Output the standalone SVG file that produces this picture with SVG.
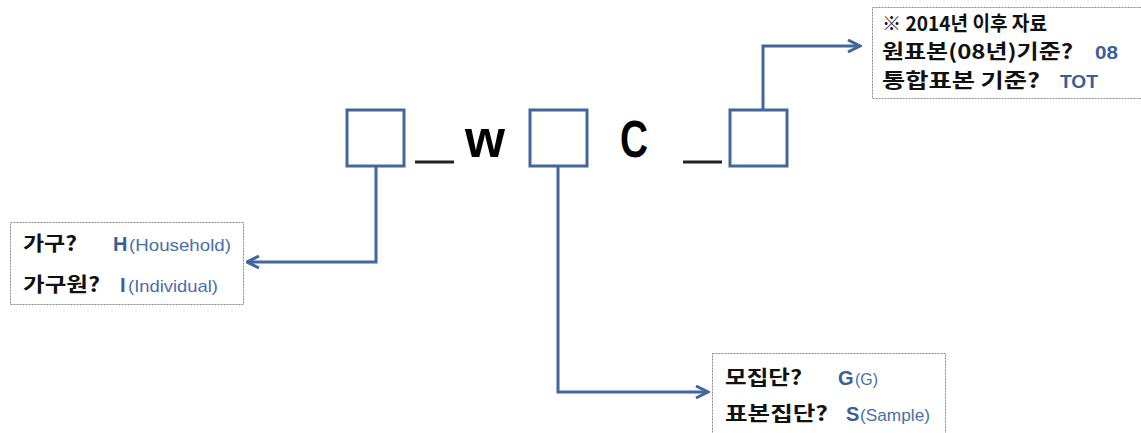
<svg xmlns="http://www.w3.org/2000/svg" width="1141" height="433" viewBox="0 0 1141 433">
<defs>
<style>
.sq{fill:#fff;stroke:#41679c;stroke-width:3}
.ln{fill:none;stroke:#41679c;stroke-width:3}
.bx{fill:#fff;stroke:#8a8a8a;stroke-width:1;stroke-dasharray:2 1}
.k{font-family:"Noto Sans CJK KR","Liberation Sans",sans-serif;font-weight:bold;font-size:20px;fill:#111}
.b{font-family:"Liberation Sans",sans-serif;font-weight:bold;fill:#3a5f98}
.s{font-family:"Liberation Sans",sans-serif;font-weight:normal;font-size:17px;fill:#4a6fa5}
.big{font-family:"Liberation Sans",sans-serif;font-weight:bold;font-size:51px;fill:#000}
.us{stroke:#222;stroke-width:3}
</style>
<marker id="ah" viewBox="0 0 10 10" refX="9" refY="5" markerWidth="5" markerHeight="5" orient="auto" markerUnits="strokeWidth">
<path d="M1,1 L9,5 L1,9" fill="none" stroke="#41679c" stroke-width="2"/>
</marker>
</defs>
<rect width="1141" height="433" fill="#fff"/>
<g id="connectors">
<path class="ln" d="M376,166 V262 H247" marker-end="url(#ah)"/>
<path class="ln" d="M558,166 V392 H708" marker-end="url(#ah)"/>
<path class="ln" d="M763,110 V46 H860" marker-end="url(#ah)"/>
</g>
<g id="code">
<rect id="box1" class="sq" x="347" y="110" width="57" height="56"/>
<line class="us" x1="415" y1="162" x2="454" y2="162"/>
<text class="big" x="465" y="157" textLength="40" lengthAdjust="spacingAndGlyphs">w</text>
<rect id="box2" class="sq" x="530" y="110" width="57" height="56"/>
<text class="big" x="620" y="157" textLength="28" lengthAdjust="spacingAndGlyphs">C</text>
<line class="us" x1="683" y1="162" x2="722" y2="162"/>
<rect id="box3" class="sq" x="730" y="110" width="57" height="56"/>
</g>
<g id="node-household">
<rect class="bx" x="10.5" y="222.5" width="233" height="82"/>
<text class="k" x="23" y="251" textLength="54" lengthAdjust="spacingAndGlyphs">가구?</text>
<text class="b" x="113" y="251" font-size="20">H</text>
<text class="s" x="129" y="251" textLength="102" lengthAdjust="spacingAndGlyphs">(Household)</text>
<text class="k" x="23" y="292" textLength="77" lengthAdjust="spacingAndGlyphs">가구원?</text>
<text class="b" x="120" y="292" font-size="20" font-family="Liberation Serif">I</text>
<text class="s" x="128" y="292" textLength="90" lengthAdjust="spacingAndGlyphs">(Individual)</text>
</g>
<g id="node-population">
<rect class="bx" x="712.5" y="353.5" width="233" height="90"/>
<text class="k" x="725" y="385" textLength="77" lengthAdjust="spacingAndGlyphs">모집단?</text>
<text class="b" x="838" y="385" font-size="20">G</text>
<text class="s" x="855" y="385" textLength="23" lengthAdjust="spacingAndGlyphs">(G)</text>
<text class="k" x="725" y="421" textLength="103" lengthAdjust="spacingAndGlyphs">표본집단?</text>
<text class="b" x="846" y="421" font-size="20">S</text>
<text class="s" x="860" y="421" textLength="70" lengthAdjust="spacingAndGlyphs">(Sample)</text>
</g>
<g id="node-sample">
<rect class="bx" x="872.5" y="7.5" width="275" height="91"/>
<text class="k" x="882" y="31" font-size="18" textLength="165" lengthAdjust="spacingAndGlyphs">※ 2014년  이후  자료</text>
<text class="k" x="882" y="59" textLength="191" lengthAdjust="spacingAndGlyphs">원표본(08년)기준?</text>
<text class="b" x="1095" y="59" font-size="19" textLength="23" lengthAdjust="spacingAndGlyphs">08</text>
<text class="k" x="882" y="88" textLength="158" lengthAdjust="spacingAndGlyphs">통합표본 기준?</text>
<text class="b" x="1060" y="88" font-size="19" textLength="38" lengthAdjust="spacingAndGlyphs">TOT</text>
</g>
</svg>
